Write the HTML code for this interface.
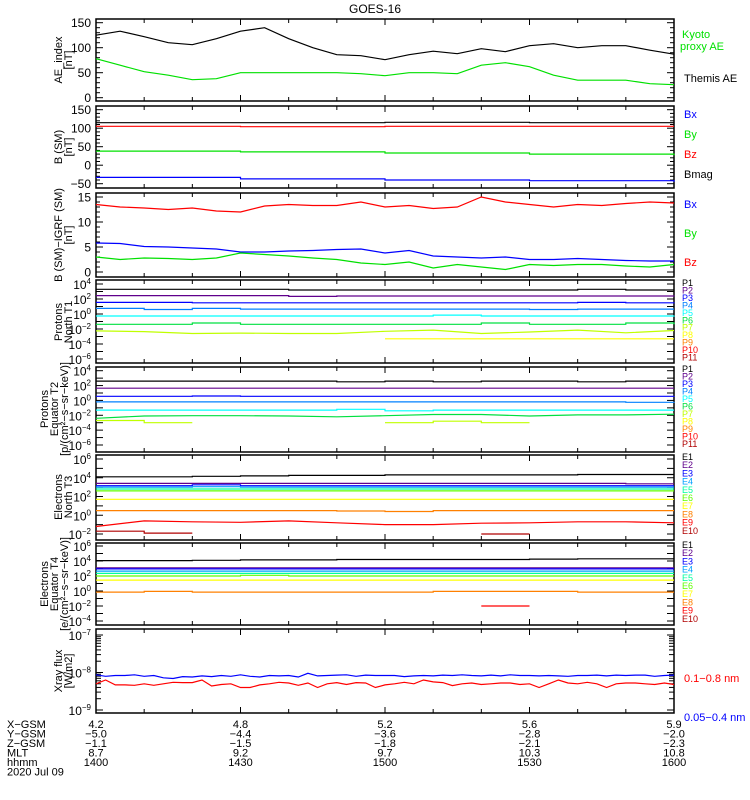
<!DOCTYPE html>
<html><head><meta charset="utf-8">
<style>
html,body{margin:0;padding:0;background:#fff;}
svg{display:block;font-family:"Liberation Sans",sans-serif;}
</style></head>
<body>
<svg id="c" width="750" height="800" viewBox="0 0 750 800"></svg>
<script>
// ---------------- data ----------------
const timeTicks = ["1400","1430","1500","1530","1600"];
const xgsm = ["4.2","4.8","5.2","5.6","5.9"];
const ygsm = ["-5.0","-4.4","-3.6","-2.8","-2.0"];
const zgsm = ["-1.1","-1.5","-1.8","-2.1","-2.3"];
const mlt = ["8.7","9.2","9.7","10.3","10.8"];
// AE index, every 5 min from 14:00
const aeThemis = [125,133,122,110,106,118,133,140,118,100,86,84,76,86,93,88,98,92,104,108,100,104,104,95,87];
const aeKyoto = [78,65,52,45,36,38,50,50,50,50,50,48,44,50,50,48,65,70,62,45,35,35,35,28,26];
// B (SM), every 30 min
const bmag = [115,115,116,115,115];
const bz = [105,104,105,105,105];
const by = [38,36,33,30,27];
const bx = [-33,-37,-40,-42,-45];
// B - IGRF, every 5 min
const dBz = [13.5,13,12.8,12.5,12.8,12.2,12,13.2,13.5,13.3,13.3,14,13,13.3,12.7,13,15,14,13.5,13,13.5,13.3,13.7,14,13.8];
const dBx = [5.8,5.7,5.1,5,4.8,4.6,4,4,4.2,4.3,4.5,4.6,3.8,4.3,3.2,3,2.8,3,2.5,2.5,2.7,2.5,2.3,2.2,2.2];
const dBy = [3,2.5,2.8,2.7,2.5,2.8,3.8,3.5,3.2,2.8,2.5,1.8,1.5,2.0,0.8,1.5,1.0,0.5,1.5,1.3,1.5,1.5,1.2,1.0,1.5];
// log10 fluxes, every 10 min (13 pts), null = gap
const t1P1 = [3.3,3.3,3.3,3.3,3.2,3.2,3.2,3.2,3.2,3.2,3.3,3.2,3.2];
const t1P2 = [2.45,2.45,2.45,2.45,2.35,2.4,2.4,2.4,2.4,2.4,2.4,2.4,2.35];
const t1P3 = [1.55,1.55,1.5,1.5,1.5,1.5,1.5,1.5,1.5,1.5,1.55,1.5,1.55];
const t1P4 = [0.75,0.6,0.75,0.65,0.65,0.65,0.65,0.65,0.65,0.6,0.65,0.65,0.65];
const t1P5 = [-0.27,-0.27,-0.27,-0.27,-0.27,-0.27,-0.27,-0.15,-0.27,-0.27,-0.27,-0.27,-0.2];
const t1P6 = [-1.37,-1.37,-1.2,-1.37,-1.37,-1.37,-1.37,-1.37,-1.2,-1.37,-1.37,-1.2,-1.37];
const t1P7 = [-2.25,-2.35,-2.6,-2.55,-2.6,-2.6,-2.3,-2.15,-2.6,-2.4,-2.15,-2.5,-2.2];
const t1P8 = [null,null,null,null,null,null,-3.3,-3.3,-3.3,-3.3,-3.3,-3.3,null];
const t2P1 = [2.6,2.6,2.6,2.6,2.6,2.5,2.6,2.5,2.6,2.6,2.5,2.6,2.6];
const t2P2 = [1.64,1.64,1.64,1.64,1.64,1.64,1.64,1.64,1.64,1.64,1.64,1.64,1.64];
const t2P3 = [0.56,0.56,0.6,0.56,0.56,0.56,0.56,0.56,0.56,0.56,0.56,0.56,0.6];
const t2P4 = [-0.2,-0.2,-0.2,-0.2,-0.2,-0.2,-0.2,-0.2,-0.2,-0.2,-0.2,-0.25,-0.2];
const t2P5 = [-1.3,-1.3,-1.3,-1.3,-1.3,-1.2,-1.4,-1.3,-1.3,-1.3,-1.3,-1.3,-1.3];
const t2P6 = [-2.4,-2.1,-2.05,-2.05,-2.1,-2.2,-2.05,-1.9,-1.9,-2.1,-1.95,-1.95,-1.85];
const t2P7 = [-2.7,-3.0,null,null,null,null,-3.0,-2.8,-3.0,null,null,null,null];
const t3E1 = [4.1,4.1,4.15,4.2,4.25,4.25,4.3,4.3,4.3,4.3,4.35,4.35,4.35];
const t3E2 = [3.4,3.4,3.4,3.4,3.4,3.4,3.4,3.4,3.4,3.4,3.4,3.35,3.35];
const t3E3 = [3.15,3.15,3.25,3.15,3.15,3.15,3.15,3.15,3.15,3.15,3.15,3.15,3.15];
const t3E4 = [3.0,3.0,3.05,3.0,3.0,3.0,3.0,3.0,3.0,3.0,3.0,3.0,3.0];
const t3E5 = [2.8,2.8,2.8,2.8,2.8,2.8,2.8,2.8,2.8,2.8,2.8,2.8,2.8];
const t3E6 = [2.6,2.6,2.6,2.6,2.6,2.6,2.6,2.6,2.6,2.6,2.6,2.6,2.6];
const t3E7 = [1.7,1.7,1.7,1.7,1.7,1.7,1.7,1.7,1.7,1.7,1.7,1.7,1.7];
const t3E8 = [0.5,0.5,0.5,0.5,0.5,0.45,0.4,0.5,0.5,0.5,0.5,0.5,0.5];
const t3E9 = [-1.2,-0.6,-0.7,-0.75,-0.6,-0.8,-1.0,-1.0,-0.85,-0.8,-0.7,-0.7,-0.8];
const t3E10 = [-1.7,-1.9,null,null,null,null,null,null,-2.0,null,null,null,null];
const t4E1 = [4.05,4.05,4.1,4.15,4.15,4.2,4.2,4.2,4.2,4.25,4.3,4.3,4.3];
const t4E2 = [3.1,3.1,3.1,3.1,3.1,3.1,3.1,3.1,3.1,3.1,3.1,3.1,3.1];
const t4E3 = [2.95,2.95,2.95,2.95,2.95,2.95,2.95,2.95,2.95,2.95,2.95,2.95,2.95];
const t4E4 = [2.65,2.65,2.65,2.65,2.65,2.65,2.65,2.65,2.65,2.65,2.65,2.65,2.65];
const t4E5 = [2.35,2.35,2.35,2.35,2.35,2.35,2.35,2.35,2.35,2.35,2.35,2.35,2.35];
const t4E6 = [2.0,2.0,2.0,2.1,2.0,2.0,2.0,2.0,2.0,2.0,2.0,2.0,2.0];
const t4E7 = [1.45,1.45,1.45,1.45,1.45,1.45,1.45,1.45,1.45,1.45,1.45,1.45,1.45];
const t4E8 = [-0.15,-0.05,-0.15,-0.15,-0.15,-0.15,-0.15,-0.05,-0.05,-0.05,-0.15,-0.15,-0.15];
const t4E9 = [null,null,null,null,null,null,null,null,-2.0,null,null,null,null];
// X-ray log10 flux, every 2 min (61 pts)
const xrLong = [-8.06,-8.1,-8.08,-8.08,-8.06,-8.1,-8.08,-8.14,-8.16,-8.11,-8.12,-8.09,-8.11,-8.08,-8.1,-8.06,-8.1,-8.12,-8.08,-8.09,-8.08,-8.12,-8.02,-8.09,-8.08,-8.07,-8.06,-8.1,-8.07,-8.08,-8.08,-8.08,-8.11,-8.09,-8.08,-8.09,-8.07,-8.08,-8.06,-8.08,-8.09,-8.07,-8.09,-8.06,-8.08,-8.08,-8.09,-8.08,-8.09,-8.1,-8.08,-8.08,-8.07,-8.09,-8.07,-8.08,-8.07,-8.07,-8.1,-8.08,-8.07];
const xrShort = [-8.3,-8.2,-8.33,-8.33,-8.34,-8.3,-8.34,-8.3,-8.26,-8.27,-8.27,-8.2,-8.36,-8.32,-8.3,-8.4,-8.4,-8.33,-8.3,-8.26,-8.28,-8.34,-8.28,-8.4,-8.3,-8.27,-8.32,-8.27,-8.28,-8.4,-8.33,-8.3,-8.26,-8.3,-8.2,-8.25,-8.27,-8.35,-8.3,-8.28,-8.32,-8.3,-8.28,-8.28,-8.32,-8.3,-8.4,-8.3,-8.2,-8.28,-8.3,-8.26,-8.3,-8.4,-8.3,-8.28,-8.28,-8.3,-8.32,-8.28,-8.32];

// ---------------- drawing ----------------
const NS = "http://www.w3.org/2000/svg";
const svg = document.getElementById('c');
const X0 = 96, X1 = 674, TMIN = 120;
function xs(min){ return X0 + (X1 - X0) * min / TMIN; }
function mk(tag, attrs, parent){
  const e = document.createElementNS(NS, tag);
  for (const k in attrs) e.setAttribute(k, attrs[k]);
  (parent || svg).appendChild(e);
  return e;
}
function txt(x, y, s, opts, parent){
  const t = mk('text', Object.assign({x:x, y:y, 'font-size':11, fill:'#000'}, opts||{}), parent);
  t.textContent = s;
  return t;
}
function lin(v0, p0, v1, p1){ return v => p0 + (v - v0) * (p1 - p0) / (v1 - v0); }

function drawSeries(arr, stepMin, yf, color, name, step){
  const g = mk('g', {});
  
  
  let d = '';
  let pen = false;
  for (let i = 0; i < arr.length; i++){
    if (arr[i] === null || arr[i] === undefined){ pen = false; continue; }
    const x = xs(i * stepMin), y = yf(arr[i]);
    if (step){
      const xe = Math.min(xs((i + 1) * stepMin), X1);
      d += (pen ? 'L' : 'M') + x.toFixed(1) + ' ' + y.toFixed(1) + 'L' + xe.toFixed(1) + ' ' + y.toFixed(1);
    } else {
      d += (pen ? 'L' : 'M') + x.toFixed(1) + ' ' + y.toFixed(1);
    }
    pen = true;
  }
  mk('path', {d:d, fill:'none', stroke:color, 'stroke-width':1.2}, g);
}

function frame(top, bot, name){
  const g = mk('g', {});
  
  
  mk('rect', {x:X0, y:top, width:X1-X0, height:bot-top, fill:'none', stroke:'#000', 'stroke-width':1.5}, g);
  for (let m = 0; m <= 120; m += 10){
    const x = xs(m), L = (m % 30 === 0) ? 6 : 4;
    mk('line', {x1:x, y1:bot, x2:x, y2:bot-L, stroke:'#000'}, g);
    mk('line', {x1:x, y1:top, x2:x, y2:top+L, stroke:'#000'}, g);
  }
  return g;
}
function yTicks(g, vals, yf, labels, minorVals){
  vals.forEach((v, i) => {
    const y = yf(v);
    mk('line', {x1:X0, y1:y, x2:X0+7, y2:y, stroke:'#000'}, g);
    mk('line', {x1:X1, y1:y, x2:X1-7, y2:y, stroke:'#000'}, g);
    if (labels[i] !== '') txt(91, y+4.5, labels[i], {'text-anchor':'end', 'font-size':12}, g);
  });
  (minorVals||[]).forEach(v => {
    const y = yf(v);
    mk('line', {x1:X0, y1:y, x2:X0+4, y2:y, stroke:'#000'}, g);
    mk('line', {x1:X1, y1:y, x2:X1-4, y2:y, stroke:'#000'}, g);
  });
}
function logTicks(g, lo, hi, yf, labelEvery){
  for (let e = lo; e <= hi; e++){
    const y = yf(e);
    mk('line', {x1:X0, y1:y, x2:X0+7, y2:y, stroke:'#000'}, g);
    mk('line', {x1:X1, y1:y, x2:X1-7, y2:y, stroke:'#000'}, g);
    if ((e - lo) % labelEvery === 0){
      const t = mk('text', {x:91, y:y+5, 'text-anchor':'end', 'font-size':12}, g);
      const a = mk('tspan', {}, t); a.textContent = '10';
      const b = mk('tspan', {dy:-5, 'font-size':8}, t); b.textContent = String(e).replace('-', '\u2212');
    }
  }
}
function yTitle(lines, cx, cy, g){
  const t = mk('text', {transform:`translate(${cx},${cy}) rotate(-90)`, 'text-anchor':'middle', 'font-size':11}, g);
  lines.forEach((l, i) => {
    const s = mk('tspan', {x:0, dy: i === 0 ? 0 : 10}, t);
    s.textContent = l;
  });
  return t;
}
function rlabel(x, y, s, color, name, size){
  const t = txt(x, y, s, {fill:color, 'font-size':size||11});
  
  
}

const title = txt(375, 13, 'GOES-16', {'text-anchor':'middle', 'font-size':12});



// Panel 1: AE
{
  const yf = lin(0, 97.7, 150, 22.7);
  const g = frame(19, 101, 'ae-index-panel');
  yTicks(g, [0,50,100,150], yf, ['0','50','100','150'], [10,20,30,40,60,70,80,90,110,120,130,140]);
  yTitle(['AE_index', '[nT]'], 62, 60, g);
  drawSeries(aeThemis, 5, yf, '#000', 'themis-ae-line');
  drawSeries(aeKyoto, 5, yf, '#00e000', 'kyoto-proxy-ae-line');
  rlabel(682, 38, 'Kyoto', '#00e000', 'legend-kyoto');
  rlabel(680, 50, 'proxy AE', '#00e000', 'legend-proxy-ae');
  rlabel(684, 82, 'Themis AE', '#000', 'legend-themis-ae');
}
// Panel 2: B SM
{
  const yf = lin(150, 109.7, -50, 183.7);
  const g = frame(106, 188, 'b-sm-panel');
  yTicks(g, [-50,0,50,100,150], yf, ['\u221250','0','50','100','150'], [-40,-30,-20,-10,10,20,30,40,60,70,80,90,110,120,130,140]);
  yTitle(['B (SM)', '[nT]'], 62, 147, g);
  drawSeries(bmag, 30, yf, '#000', 'bmag-line', true);
  drawSeries(bz, 30, yf, '#ff0000', 'bz-line', true);
  drawSeries(by, 30, yf, '#00e000', 'by-line', true);
  drawSeries(bx, 30, yf, '#0000ff', 'bx-line', true);
  rlabel(684, 118, 'Bx', '#0000ff', 'legend-bx');
  rlabel(684, 138, 'By', '#00e000', 'legend-by');
  rlabel(684, 158, 'Bz', '#ff0000', 'legend-bz');
  rlabel(684, 178, 'Bmag', '#000', 'legend-bmag');
}
// Panel 3: B - IGRF
{
  const yf = lin(15, 197, 0, 272);
  const g = frame(193, 277, 'b-minus-igrf-panel');
  yTicks(g, [0,5,10,15], yf, ['0','5','10','15'], [1,2,3,4,6,7,8,9,11,12,13,14]);
  yTitle(['B (SM)\u2212IGRF (SM)', '[nT]'], 62, 235, g);
  drawSeries(dBz, 5, yf, '#ff0000', 'dbz-line');
  drawSeries(dBx, 5, yf, '#0000ff', 'dbx-line');
  drawSeries(dBy, 5, yf, '#00e000', 'dby-line');
  rlabel(684, 208, 'Bx', '#0000ff', 'legend-dbx');
  rlabel(684, 237, 'By', '#00e000', 'legend-dby');
  rlabel(684, 266, 'Bz', '#ff0000', 'legend-dbz');
}
const pCols = ['#000','#60008c','#0000ff','#0080ff','#00ffff','#00e040','#c0ff00','#ffff00','#ff8000','#ff0000','#b00000'];
const eCols = ['#000','#60008c','#0000ff','#00a0ff','#00ffa0','#60ff00','#ffff00','#ff8000','#ff0000','#b00000'];
function chanLabels(prefix, n, y0, dy, cols, panel){
  for (let i = 0; i < n; i++){
    const t = txt(682, y0 + i * dy, prefix + (i + 1), {fill: cols[i], 'font-size':9});
    
    
  }
}
// Panel 4: Protons T1
{
  const yf = lin(4, 284, -6, 359);
  const g = frame(280, 363, 'protons-north-t1-panel');
  logTicks(g, -6, 4, yf, 2);
  yTitle(['Protons', 'North T1'], 62, 322, g);
  [t1P1,t1P2,t1P3,t1P4,t1P5,t1P6,t1P7,t1P8].forEach((a, i) => drawSeries(a, 10, yf, pCols[i], 't1-p' + (i + 1) + '-line', i !== 6));
  chanLabels('P', 11, 286, 7.45, pCols, 't1');
}
// Panel 5: Protons T2
{
  const yf = lin(4, 370.7, -6, 445);
  const g = frame(367, 452, 'protons-equator-t2-panel');
  logTicks(g, -6, 4, yf, 2);
  yTitle(['Protons', 'Equator T2', '[p/(cm\u00b2\u2212s\u2212sr\u2212keV)]'], 48, 409, g);
  [t2P1,t2P2,t2P3,t2P4,t2P5,t2P6,t2P7].forEach((a, i) => drawSeries(a, 10, yf, pCols[i], 't2-p' + (i + 1) + '-line', i !== 5));
  chanLabels('P', 11, 372, 7.5, pCols, 't2');
}
// Panel 6: Electrons T3
{
  const yf = lin(6, 459, -2, 534);
  const g = frame(455, 540, 'electrons-north-t3-panel');
  logTicks(g, -2, 6, yf, 2);
  yTitle(['Electrons', 'North T3'], 62, 497, g);
  [t3E1,t3E2,t3E3,t3E4,t3E5,t3E6,t3E7,t3E8,t3E9,t3E10].forEach((a, i) => drawSeries(a, 10, yf, eCols[i], 't3-e' + (i + 1) + '-line', i !== 8));
  chanLabels('E', 10, 460, 8.2, eCols, 't3');
}
// Panel 7: Electrons T4
{
  const yf = lin(6, 546, -4, 621);
  const g = frame(543, 625, 'electrons-equator-t4-panel');
  logTicks(g, -4, 6, yf, 2);
  yTitle(['Electrons', 'Equator T4', '[e/(cm\u00b2\u2212s\u2212sr\u2212keV)]'], 48, 584, g);
  [t4E1,t4E2,t4E3,t4E4,t4E5,t4E6,t4E7,t4E8,t4E9].forEach((a, i) => drawSeries(a, 10, yf, eCols[i], 't4-e' + (i + 1) + '-line', true));
  chanLabels('E', 10, 548, 8.2, eCols, 't4');
}
// Panel 8: X-ray
{
  const yf = lin(-7, 635, -9, 710);
  const g = frame(629, 713, 'xray-flux-panel');
  logTicks(g, -9, -7, yf, 1);
  const minors = [];
  for (let e = -9; e < -7; e++) for (let k = 2; k <= 9; k++) minors.push(e + Math.log10(k));
  minors.forEach(v => {
    const y = yf(v);
    mk('line', {x1:X0, y1:y, x2:X0+5, y2:y, stroke:'#000'}, g);
    mk('line', {x1:X1, y1:y, x2:X1-5, y2:y, stroke:'#000'}, g);
  });
  yTitle(['Xray flux', '[W/m2]'], 62, 671, g);
  drawSeries(xrLong, 2, yf, '#0000ff', 'xray-0.05-0.4nm-line');
  drawSeries(xrShort, 2, yf, '#ff0000', 'xray-0.1-0.8nm-line');
  rlabel(684, 682, '0.1\u22120.8 nm', '#ff0000', 'legend-xray-long');
  rlabel(684, 721, '0.05\u22120.4 nm', '#0000ff', 'legend-xray-short');
}
// Footer
{
  const g = mk('g', {});
  
  
  const names = ['X-GSM','Y-GSM','Z-GSM','MLT','hhmm'];
  const rows = [xgsm, ygsm, zgsm, mlt, timeTicks];
  names.forEach((n, r) => {
    const y = 728 + r * 9.5;
    txt(7, y, n.replace('-', '\u2212'), {'font-size':11}, g);
    rows[r].forEach((v, i) => txt(xs(i * 30), y, v.replace('-', '\u2212'), {'text-anchor':'middle', 'font-size':11}, g));
  });
  txt(7, 775.5, '2020 Jul 09', {'font-size':11}, g);
}
</script>
</body></html>
